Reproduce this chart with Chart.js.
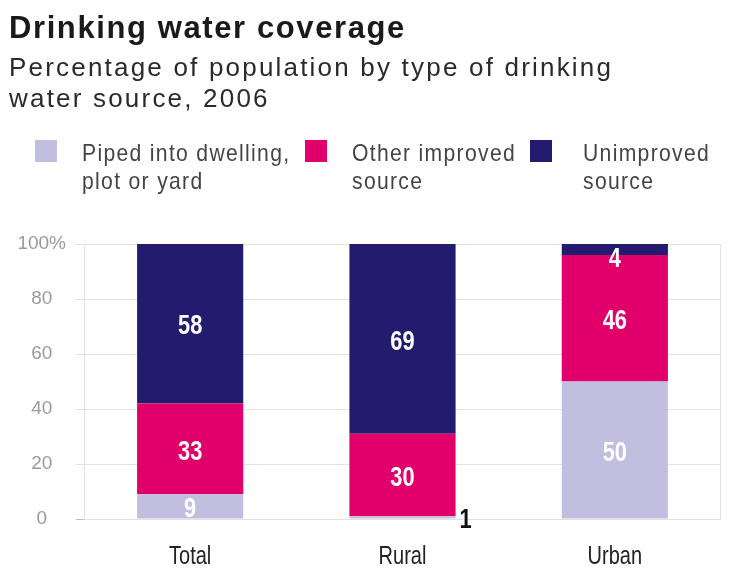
<!DOCTYPE html>
<html>
<head>
<meta charset="utf-8">
<script src="https://cdn.jsdelivr.net/npm/chart.js@4/dist/chart.umd.min.js"></script>
<style>
  body { margin: 0; background: #fff; }
  #wrap { position: relative; width: 739px; height: 575px; background: #fff; overflow: hidden; }
  #chart { position: absolute; left: 0; top: 0; }
  .title { position: absolute; left: 9px; top: 12px; font: bold 31px/31px 'Liberation Sans', Arial, sans-serif; letter-spacing: 1.6px; color: #1a1a1a; white-space: nowrap; }
  .sub { position: absolute; left: 9px; top: 52px; font: 26px/31px 'Liberation Sans', Arial, sans-serif; letter-spacing: 2.2px; color: #2a2a2a; white-space: nowrap; }
  .sw { position: absolute; top: 140px; width: 22px; height: 22px; }
  .lt { position: absolute; top: 139px; font: 24px/28px 'Liberation Sans', Arial, sans-serif; letter-spacing: 1.5px; color: #444; white-space: nowrap; transform: scaleX(0.88); transform-origin: 0 0; }
</style>
</head>
<body>
<div id="wrap">
  <canvas id="chart" width="739" height="575"></canvas>
  <div class="title">Drinking water coverage</div>
  <div class="sub">Percentage of population by type of drinking<br>water source, 2006</div>
  <div class="sw" id="sw0" style="left:35px"></div>
  <div class="lt" style="left:82px">Piped into dwelling,<br>plot or yard</div>
  <div class="sw" id="sw1" style="left:305px"></div>
  <div class="lt" style="left:352px">Other improved<br>source</div>
  <div class="sw" id="sw2" style="left:530px"></div>
  <div class="lt" style="left:583px">Unimproved<br>source</div>
</div>
<script>
document.addEventListener('DOMContentLoaded', () => {
    // data (percent of population)
    const categories = ['Total', 'Rural', 'Urban'];
    const pipedValues = [9, 1, 50];
    const otherImprovedValues = [33, 30, 46];
    const unimprovedValues = [58, 69, 4];
    const yTicks = [0, 20, 40, 60, 80, 100];

    const colors = ['#c2bedf', '#e1006b', '#231c6e'];
    colors.forEach((c, i) => { document.getElementById('sw' + i).style.background = c; });

    const sans = "'Liberation Sans', Arial, sans-serif";

    // draws text squeezed horizontally, the reference uses a condensed face
    function narrowText(ctx, text, x, y, sx) {
        ctx.save();
        ctx.translate(x, y);
        ctx.scale(sx, 1);
        ctx.fillText(text, 0, 0);
        ctx.restore();
    }

    // frame around the plot area
    const framePlugin = {
        id: 'frame',
        beforeDatasetsDraw(chart) {
            const { ctx, chartArea: a } = chart;
            ctx.save();
            ctx.strokeStyle = '#e2e2e2';
            ctx.lineWidth = 1;
            ctx.strokeRect(a.left + 0.5, a.top + 0.5, a.right - a.left - 1, a.bottom - a.top);
            ctx.restore();
        }
    };

    // category names under the bars
    const categoryLabels = {
        id: 'categoryLabels',
        afterDraw(chart) {
            const ctx = chart.ctx;
            const xs = chart.scales.x;
            ctx.save();
            ctx.font = '25px ' + sans;
            ctx.fillStyle = '#222';
            ctx.textAlign = 'center';
            ctx.textBaseline = 'middle';
            chart.data.labels.forEach((lab, i) => {
                narrowText(ctx, lab, xs.getPixelForTick(i), chart.chartArea.bottom + 38, 0.8);
            });
            ctx.restore();
        }
    };

    // values written on the bar segments
    const valueLabels = {
        id: 'valueLabels',
        afterDatasetsDraw(chart) {
            const ctx = chart.ctx;
            ctx.save();
            ctx.font = 'bold 28px ' + sans;
            ctx.textBaseline = 'middle';
            chart.data.datasets.forEach((ds, di) => {
                chart.getDatasetMeta(di).data.forEach((bar, i) => {
                    const v = ds.data[i];
                    const h = bar.base - bar.y;
                    if (v <= 2) {
                        ctx.fillStyle = '#111';
                        ctx.textAlign = 'left';
                        narrowText(ctx, String(v), bar.x + bar.width / 2 + 4, bar.base + 2, 0.78);
                    } else if (h < 22) {
                        ctx.fillStyle = '#fff';
                        ctx.textAlign = 'center';
                        narrowText(ctx, String(v), bar.x, bar.y + 15, 0.78);
                    } else {
                        ctx.fillStyle = '#fff';
                        ctx.textAlign = 'center';
                        narrowText(ctx, String(v), bar.x, (bar.y + bar.base) / 2 + 3, 0.78);
                    }
                });
            });
            ctx.restore();
        }
    };

    const ctx = document.getElementById('chart').getContext('2d');
    new Chart(ctx, {
        type: 'bar',
        data: {
            labels: categories,
            datasets: [
                { label: 'Piped into dwelling, plot or yard', data: pipedValues, backgroundColor: colors[0] },
                { label: 'Other improved source', data: otherImprovedValues, backgroundColor: colors[1] },
                { label: 'Unimproved source', data: unimprovedValues, backgroundColor: colors[2] }
            ]
        },
        options: {
            responsive: false,
            animation: false,
            categoryPercentage: 1,
            barPercentage: 0.5,
            layout: { padding: { top: 244, right: 18, left: 0, bottom: 0 } },
            plugins: {
                legend: { display: false },
                tooltip: { enabled: false }
            },
            scales: {
                x: {
                    stacked: true,
                    grid: { display: false },
                    border: { display: false },
                    ticks: { display: false },
                    afterFit: (scale) => { scale.height = 56; }
                },
                y: {
                    stacked: true,
                    min: 0,
                    max: 100,
                    afterBuildTicks: (scale) => { scale.ticks = yTicks.map(v => ({ value: v })); },
                    grid: {
                        color: (c) => c.tick && c.tick.value === 0 ? '#bdbdbd' : '#e4e4e4',
                        tickLength: 8
                    },
                    border: { display: false },
                    ticks: {
                        color: '#9a9a9a',
                        font: { family: sans, size: 19 },
                        padding: 10,
                        crossAlign: 'center',
                        callback: (v) => v === 100 ? '100%' : v
                    },
                    afterFit: (scale) => { scale.width = 84; }
                }
            }
        },
        plugins: [framePlugin, valueLabels, categoryLabels]
    });
});
</script>
</body>
</html>
